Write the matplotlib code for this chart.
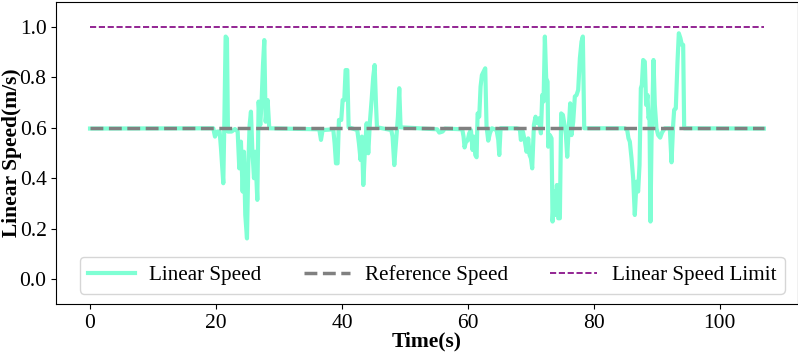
import numpy as np
import matplotlib
matplotlib.use('Agg')
import matplotlib.pyplot as plt

plt.rcParams['font.family'] = ['Liberation Serif', 'DejaVu Serif']
plt.rcParams['mathtext.fontset'] = 'stix'

time_s = [
    0.0, 19.57, 19.84, 20.21, 20.58, 20.79, 21.16, 21.32, 21.53, 21.74, 21.9,
    22.48, 23.01, 23.44, 23.7, 23.96, 24.23, 24.44, 24.65, 24.92, 25.13, 25.34,
    25.55, 25.76, 26.03, 26.24, 26.56, 26.77, 27.03, 27.24, 27.46, 27.67, 27.88,
    28.2, 28.46,
    36.4, 36.67, 36.93, 38.62, 38.84, 39.05, 39.31, 39.52, 39.89, 40.11, 40.37,
    40.58, 40.85, 41.06, 42.43, 42.7, 42.96, 43.17, 43.39, 43.65, 43.92, 44.18,
    44.44, 44.71, 44.97, 45.19, 45.4, 45.56, 47.83, 48.04, 48.31, 48.57, 48.89,
    49.1, 49.31,
    55.13, 55.45, 55.98, 56.35, 59.1, 59.31, 59.47, 59.68, 59.95, 60.21, 60.48,
    60.74, 60.95, 61.17, 61.38, 61.54, 61.8, 62.01, 62.22, 62.49, 62.75, 62.96,
    63.23, 63.49, 63.81, 64.55, 64.82, 64.98, 65.19,
    67.72, 68.25, 68.41, 68.73, 69.05, 69.31, 69.58, 69.79, 70.0, 70.21, 70.48,
    70.74, 71.06, 71.32, 71.59, 71.8, 72.01, 72.22, 72.43, 72.65, 72.75, 73.02,
    73.28, 73.44, 73.7, 73.92, 74.13, 74.34, 74.6, 74.81, 75.08, 75.34, 75.56,
    75.77, 75.98, 76.24, 76.45, 76.72, 76.98, 77.25, 77.51, 77.78, 78.04, 78.25,
    78.47,
    84.92, 85.29, 85.5, 85.71, 85.98, 86.24, 86.5, 86.77, 87.03, 87.25, 87.46,
    87.62, 87.83, 88.09, 88.3, 88.52, 88.67, 88.83, 88.99, 89.15, 89.31, 89.47,
    89.68, 89.94, 90.21, 90.53, 90.84, 91.27, 92.06, 92.33, 92.59, 92.75, 93.01,
    93.28, 93.49, 93.75, 93.97, 94.18, 94.34,
    107.0,
]
linear_speed = [
    0.597, 0.598, 0.565, 0.585, 0.585, 0.519, 0.380, 0.611, 0.962, 0.955, 0.585,
    0.585, 0.595, 0.585, 0.439, 0.545, 0.347, 0.505, 0.254, 0.161, 0.452, 0.611,
    0.664, 0.519, 0.400, 0.505, 0.314, 0.704, 0.611, 0.704, 0.849, 0.948, 0.624,
    0.710, 0.598,
    0.594, 0.552, 0.591, 0.594, 0.538, 0.459, 0.459, 0.631, 0.631, 0.710, 0.710,
    0.829, 0.829, 0.602, 0.591, 0.538, 0.472, 0.565, 0.373, 0.512, 0.618, 0.499,
    0.624, 0.710, 0.803, 0.849, 0.697, 0.602, 0.591, 0.565, 0.452, 0.538, 0.644,
    0.757, 0.602,
    0.594, 0.581, 0.585, 0.597, 0.594, 0.565, 0.522, 0.545, 0.549, 0.578, 0.591,
    0.512, 0.565, 0.492, 0.483, 0.657, 0.644, 0.763, 0.809, 0.823, 0.836, 0.605,
    0.549, 0.578, 0.598, 0.591, 0.552, 0.492, 0.598,
    0.598, 0.595, 0.552, 0.585, 0.545, 0.505, 0.558, 0.492, 0.479, 0.439, 0.611,
    0.644, 0.618, 0.638, 0.578, 0.730, 0.704, 0.962, 0.796, 0.783, 0.525, 0.571,
    0.558, 0.228, 0.347, 0.254, 0.373, 0.241, 0.241, 0.657, 0.651, 0.611, 0.571,
    0.485, 0.585, 0.697, 0.571, 0.624, 0.724, 0.730, 0.750, 0.876, 0.942, 0.962,
    0.598,
    0.598, 0.591, 0.558, 0.545, 0.479, 0.400, 0.254, 0.386, 0.347, 0.452, 0.757,
    0.770, 0.869, 0.862, 0.691, 0.730, 0.638, 0.651, 0.228, 0.545, 0.691, 0.869,
    0.691, 0.598, 0.571, 0.561, 0.582, 0.598, 0.598, 0.463, 0.611, 0.671, 0.677,
    0.862, 0.975, 0.955, 0.929, 0.929, 0.598,
    0.597,
]
ref_speed = 0.6
speed_limit = 1.0
t_range = [0.0, 107.0]

fig, ax = plt.subplots(figsize=(7.98, 3.56), dpi=100)
fig.subplots_adjust(left=0.0706, right=0.9995, bottom=0.1455, top=0.995)

ax.plot(time_s, linear_speed, color='aquamarine', linewidth=3, label='Linear Speed')
ax.plot(t_range, [ref_speed, ref_speed], color='gray', linestyle='--', linewidth=2.5,
        label='Reference Speed')
ax.plot(t_range, [speed_limit, speed_limit], color='purple', linestyle='--', linewidth=1.2,
        label='Linear Speed Limit')

ax.set_ylim(-0.1, 1.1)
ax.set_yticks([0.0, 0.2, 0.4, 0.6, 0.8, 1.0])
ax.set_xticks([0, 20, 40, 60, 80, 100])
ax.tick_params(labelsize=15.5)
ax.set_xlabel('Time(s)', fontsize=15.5, fontweight='bold', labelpad=-1)
ax.set_ylabel('Linear Speed(m/s)', fontsize=15.5, fontweight='bold')
ax.yaxis.set_label_coords(-0.046, 0.5)

ax.legend(loc='lower center', bbox_to_anchor=(0.507, 0.0), ncol=3, fontsize=15.2,
          handlelength=2.2, handletextpad=0.7)

plt.savefig('out.png', dpi=100)
